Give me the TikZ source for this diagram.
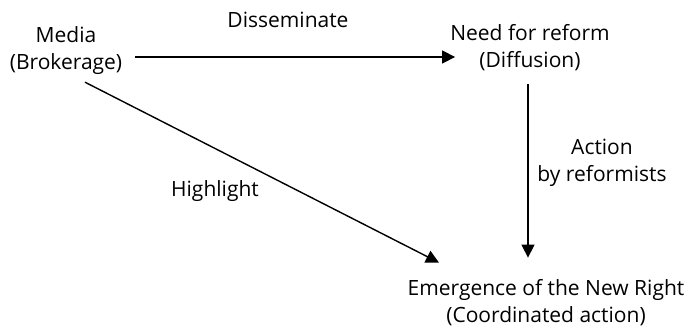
\documentclass[tikz,border=0pt]{standalone}
\usepackage{fontspec}
\setmainfont{Open Sans}
\usetikzlibrary{arrows.meta}

\begin{document}
\begin{tikzpicture}[x=1pt, y=-1pt,
  every node/.style={align=center, inner sep=2pt, font=\fontsize{21}{27}\selectfont},
  link/.style={-{Triangle[length=13pt, width=13pt]}, line width=1.4pt}]
\useasboundingbox (0,0) rectangle (688,331);

\node (media) at (66,51) {Media\\(Brokerage)};
\node (need) at (530,48) {Need for reform\\(Diffusion)};
\node (right) at (546,303) {Emergence of the New Right\\(Coordinated action)};

\node (dissem) at (288,20) {Disseminate};
\node (action) at (602,163) {Action\\by reformists};
\node (highl) at (215,191.5) {Highlight};

\draw[link] ([xshift=11pt, yshift=-6pt]media.east) -- ([xshift=7pt, yshift=-6pt]need.west |- media.east);
\draw[link] ([xshift=-2pt, yshift=-11pt]need.south) -- ([xshift=-2pt, yshift=20pt]need.south |- right.north);
\draw[link] ([xshift=19pt, yshift=-5pt]media.south) -- ([xshift=33.5pt, yshift=15pt]right.north west);
\end{tikzpicture}
\end{document}
